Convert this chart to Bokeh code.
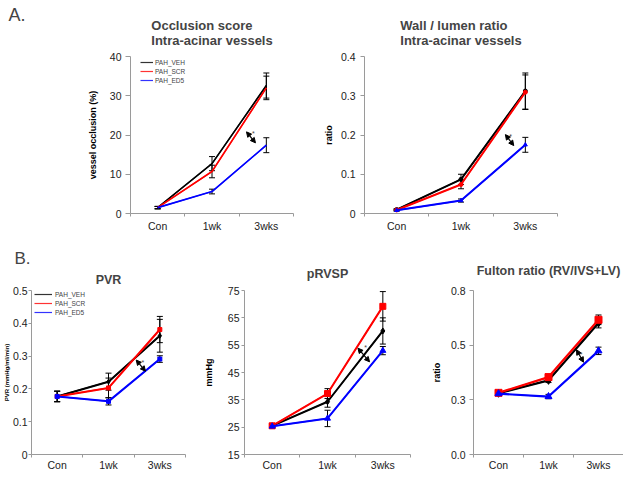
from bokeh.plotting import figure
from bokeh.layouts import column, row
from bokeh.models import (FixedTicker, Whisker, TeeHead, Arrow, NormalHead, Label,
                          Legend, LegendItem, Range1d, ColumnDataSource, Title)
from bokeh.embed import file_html
from bokeh.resources import INLINE

FONT = "Liberation Sans"

categories = ["Con", "1wk", "3wks"]
series_names = ["PAH_VEH", "PAH_SCR", "PAH_ED5"]
series_colors = ["black", "#ff0000", "#0000ff"]

# A. Occlusion score, intra-acinar vessels (%)
occlusion_veh = [1.5, 12.7, 32.6]
occlusion_veh_err = [0.3, 1.8, 3.2]
occlusion_scr = [1.5, 10.7, 32.0]
occlusion_scr_err = [0.3, 1.6, 3.0]
occlusion_ed5 = [1.5, 5.6, 17.4]
occlusion_ed5_err = [0.3, 0.6, 1.9]
occlusion_ticks = [0, 10, 20, 30, 40]
occlusion_tick_labels = ["0", "10", "20", "30", "40"]

# A. Wall / lumen ratio, intra-acinar vessels
wall_veh = [0.010, 0.087, 0.312]
wall_veh_err = [0.002, 0.013, 0.046]
wall_scr = [0.009, 0.074, 0.309]
wall_scr_err = [0.002, 0.011, 0.044]
wall_ed5 = [0.008, 0.033, 0.175]
wall_ed5_err = [0.002, 0.004, 0.019]
wall_ticks = [0, 0.1, 0.2, 0.3, 0.4]
wall_tick_labels = ["0", "0.1", "0.2", "0.3", "0.4"]

# B. PVR
pvr_veh = [0.177, 0.222, 0.362]
pvr_veh_err = [0.016, 0.026, 0.050]
pvr_scr = [0.177, 0.203, 0.381]
pvr_scr_err = [0.016, 0.030, 0.040]
pvr_ed5 = [0.177, 0.162, 0.291]
pvr_ed5_err = [0.016, 0.011, 0.010]
pvr_ticks = [0, 0.1, 0.2, 0.3, 0.4, 0.5]
pvr_tick_labels = ["0", "0.1", "0.2", "0.3", "0.4", "0.5"]

# B. pRVSP (mmHg)
prvsp_veh = [25.5, 34.3, 60.2]
prvsp_veh_err = [0.6, 2.0, 4.8]
prvsp_scr = [25.5, 37.3, 69.2]
prvsp_scr_err = [0.6, 1.8, 5.4]
prvsp_ed5 = [25.3, 28.2, 53.0]
prvsp_ed5_err = [0.6, 3.0, 1.5]
prvsp_ticks = [15, 25, 35, 45, 55, 65, 75]
prvsp_tick_labels = ["15", "25", "35", "45", "55", "65", "75"]

# B. Fulton ratio (RV/IVS+LV)
fulton_veh = [0.280, 0.339, 0.601]
fulton_veh_err = [0.008, 0.010, 0.022]
fulton_scr = [0.282, 0.354, 0.616]
fulton_scr_err = [0.008, 0.010, 0.022]
fulton_ed5 = [0.278, 0.265, 0.474]
fulton_ed5_err = [0.008, 0.010, 0.017]
fulton_ticks = [0, 0.25, 0.5, 0.75]
fulton_tick_labels = ["0.0", "0.3", "0.5", "0.8"]

xs = [i + 0.5 for i in range(len(categories))]


def style_title(t, size, standoff, align="center", bold=True, offset=0, line_height=1.0):
    t.text_font = FONT
    t.text_font_size = size
    t.text_font_style = "bold" if bold else "normal"
    t.align = align
    t.standoff = standoff
    t.offset = offset
    t.text_line_height = line_height


def make_panel(width, height, borders, y_range, ticks, tick_labels, title, title_size,
               title_standoff, ylabel, ylabel_size, ylabel_standoff, means, errs, markers,
               msizes, lw, ytick_out, ytick_standoff, xlab_standoff,
               legend=None, arrow=None, star=None, tag=None):
    left, right, top, bottom = borders
    p = figure(width=width, height=height, x_range=Range1d(0, len(categories)),
               y_range=Range1d(*y_range), output_backend="svg", toolbar_location=None,
               min_border_left=left, min_border_right=right, min_border_top=top,
               min_border_bottom=bottom)
    p.outline_line_color = None
    p.grid.visible = False
    p.background_fill_color = "white"
    p.border_fill_color = "white"

    if tag is None:
        p.title.text = title
        style_title(p.title, title_size, title_standoff)
    else:
        # panel letter as the outer title, chart title right above the frame
        ttext, tsize, toff = tag
        p.title.text = ttext
        style_title(p.title, tsize, 0, align="left", bold=False, offset=toff)
        t = Title(text=title)
        style_title(t, title_size, title_standoff)
        p.add_layout(t, "above")

    xa = p.xaxis[0]
    xa.ticker = FixedTicker(ticks=xs, minor_ticks=list(range(len(categories) + 1)))
    xa.major_label_overrides = {x: c for x, c in zip(xs, categories)}
    xa.major_tick_out = 0
    xa.major_tick_in = 0
    xa.minor_tick_out = 3
    xa.minor_tick_in = 0
    xa.major_label_standoff = xlab_standoff
    xa.major_label_text_font = FONT
    xa.major_label_text_font_size = "10.5px"
    xa.major_label_text_color = "#222222"
    xa.axis_line_color = "#9a9a9a"
    xa.minor_tick_line_color = "#9a9a9a"

    ya = p.yaxis[0]
    ya.ticker = FixedTicker(ticks=ticks, minor_ticks=[])
    ya.major_label_overrides = {t: l for t, l in zip(ticks, tick_labels)}
    ya.major_tick_out = ytick_out
    ya.major_tick_in = 0
    ya.minor_tick_out = 0
    ya.minor_tick_in = 0
    ya.major_label_standoff = ytick_standoff
    ya.major_label_text_font = FONT
    ya.major_label_text_font_size = "10.5px"
    ya.major_label_text_color = "#222222"
    ya.axis_line_color = "#9a9a9a"
    ya.major_tick_line_color = "#9a9a9a"
    if ylabel:
        ya.axis_label = ylabel
        ya.axis_label_text_font = FONT
        ya.axis_label_text_font_size = ylabel_size
        ya.axis_label_text_font_style = "bold"
        ya.axis_label_text_color = "black"
        ya.axis_label_standoff = ylabel_standoff

    order = [0, 1, 2]
    legend_renderers = []
    for i in order:
        # thin line under the main one: it supplies the legend swatch
        lr = p.line(xs, means[i], line_color=series_colors[i], line_width=1.2,
                    line_alpha=0.8)
        legend_renderers.append(lr)
        p.line(xs, means[i], line_color=series_colors[i], line_width=lw)
        if markers[i] is not None:
            p.scatter(xs, means[i], marker=markers[i], size=msizes[i],
                      fill_color=series_colors[i], line_color=series_colors[i])
    for i in order:
        src = ColumnDataSource(dict(x=xs,
                                    upper=[m + e for m, e in zip(means[i], errs[i])],
                                    lower=[m - e for m, e in zip(means[i], errs[i])]))
        w = Whisker(base="x", upper="upper", lower="lower", source=src,
                    line_color="black", line_width=1,
                    upper_head=TeeHead(size=6, line_color="black", line_width=1),
                    lower_head=TeeHead(size=6, line_color="black", line_width=1))
        p.add_layout(w)

    if legend is not None:
        lx, ltop, gw, lstand = legend
        items = [LegendItem(label=series_names[i], renderers=[legend_renderers[i]])
                 for i in range(3)]
        fh = height - top - bottom
        leg = Legend(items=items, location=(lx, fh - ltop - 26),
                     label_text_font=FONT, label_text_font_size="6.5px",
                     label_text_color="#444444", glyph_width=gw, glyph_height=8,
                     label_height=8, spacing=1, padding=0, margin=0,
                     label_standoff=lstand, border_line_color=None,
                     background_fill_alpha=0)
        p.add_layout(leg)

    if arrow is not None:
        x0, y0, x1, y1 = arrow
        p.add_layout(Arrow(x_start=x0, y_start=y0, x_end=x1, y_end=y1,
                           line_color="black", line_width=1.2,
                           start=NormalHead(size=5, fill_color="black", line_color="black"),
                           end=NormalHead(size=5, fill_color="black", line_color="black")))
    if star is not None:
        p.add_layout(Label(x=star[0], y=star[1], text="*", text_font=FONT,
                           text_font_size="7px", text_align="center",
                           text_baseline="middle"))
    return p


TOP_H, TOP_T, TOP_B = 240, 56, 27
BOT_H, BOT_T, BOT_B = 233, 50, 19

# ---- narrow strip carrying the "A." panel letter (page x 0..30)
letter_a = figure(width=30, height=TOP_H, x_axis_type=None, y_axis_type=None,
                  output_backend="svg", toolbar_location=None, min_border_left=0,
                  min_border_right=0, min_border_top=TOP_T, min_border_bottom=TOP_B)
letter_a.outline_line_color = None
letter_a.grid.visible = False
letter_a.title.text = "A."
style_title(letter_a.title, "18px", 0, align="left", bold=False, offset=8)
letter_a.add_layout(Title(text=" ", text_font=FONT, text_font_size="10px", standoff=19),
                    "above")

# ---- panel A1 (page x 30..310)
a1 = make_panel(280, TOP_H, (100, 17, TOP_T, TOP_B), (0, 40), occlusion_ticks,
                occlusion_tick_labels,
                "Occlusion score\nIntra-acinar vessels", "13px", 18,
                "vessel occlusion (%)", "9px", 9,
                [occlusion_veh, occlusion_scr, occlusion_ed5],
                [occlusion_veh_err, occlusion_scr_err, occlusion_ed5_err],
                [None, None, None], [0, 0, 0], 1.6, 5, 4, 3,
                legend=(10, 2, 13, 2), arrow=(2.135, 20.8, 2.30, 18.0), star=(2.26, 20.4))

# ---- panel A2 (page x 310..623)
a2 = make_panel(313, TOP_H, (54, 66, TOP_T, TOP_B), (0, 0.4), wall_ticks, wall_tick_labels,
                "Wall / lumen ratio\nIntra-acinar vessels", "13px", 17,
                "ratio", "9px", 4,
                [wall_veh, wall_scr, wall_ed5],
                [wall_veh_err, wall_scr_err, wall_ed5_err],
                ["circle", "circle", "triangle"], [4, 4, 4], 2, 4, 5, 3,
                arrow=(2.19, 0.201, 2.32, 0.173), star=(2.27, 0.197))

# ---- panel B1 (page x 0..200)
b1 = make_panel(200, BOT_H, (29, 15, BOT_T, BOT_B), (0, 0.5), pvr_ticks, pvr_tick_labels,
                "PVR", "12.5px", 7, "PVR (mmHg/ml/min)", "6px", 0,
                [pvr_veh, pvr_scr, pvr_ed5],
                [pvr_veh_err, pvr_scr_err, pvr_ed5_err],
                ["diamond", "square", "square"], [5, 4, 4], 2, 3, 1, 1,
                legend=(3, 0, 18, 3), arrow=(2.04, 0.288, 2.22, 0.254), star=(2.17, 0.279),
                tag=("B.", "17px", -17))

# ---- panel B2 (page x 200..428)
b2 = make_panel(228, BOT_H, (41, 18, BOT_T, BOT_B), (15, 75), prvsp_ticks, prvsp_tick_labels,
                "pRVSP", "12.5px", 20, "mmHg", "9px", 11,
                [prvsp_veh, prvsp_scr, prvsp_ed5],
                [prvsp_veh_err, prvsp_scr_err, prvsp_ed5_err],
                ["diamond", "square", "triangle"], [6, 6, 6], 2, 3, 2, 1,
                arrow=(2.05, 53.9, 2.26, 48.9), star=(2.19, 54.0))

# ---- panel B3 (page x 428..623)
b3 = make_panel(195, BOT_H, (37, 0, BOT_T, BOT_B), (0, 0.75), fulton_ticks, fulton_tick_labels,
                "Fulton ratio (RV/IVS+LV)", "12.5px", 26, "ratio", "9px", 6,
                [fulton_veh, fulton_scr, fulton_ed5],
                [fulton_veh_err, fulton_scr_err, fulton_ed5_err],
                ["diamond", "square", "triangle"], [8, 7, 7], 2.2, 4, 4, 1,
                arrow=(2.06, 0.479, 2.20, 0.422), star=(2.15, 0.459))

layout = column(row(letter_a, a1, a2), row(b1, b2, b3))

with open("out.html", "w") as f:
    f.write(file_html(layout, INLINE))
